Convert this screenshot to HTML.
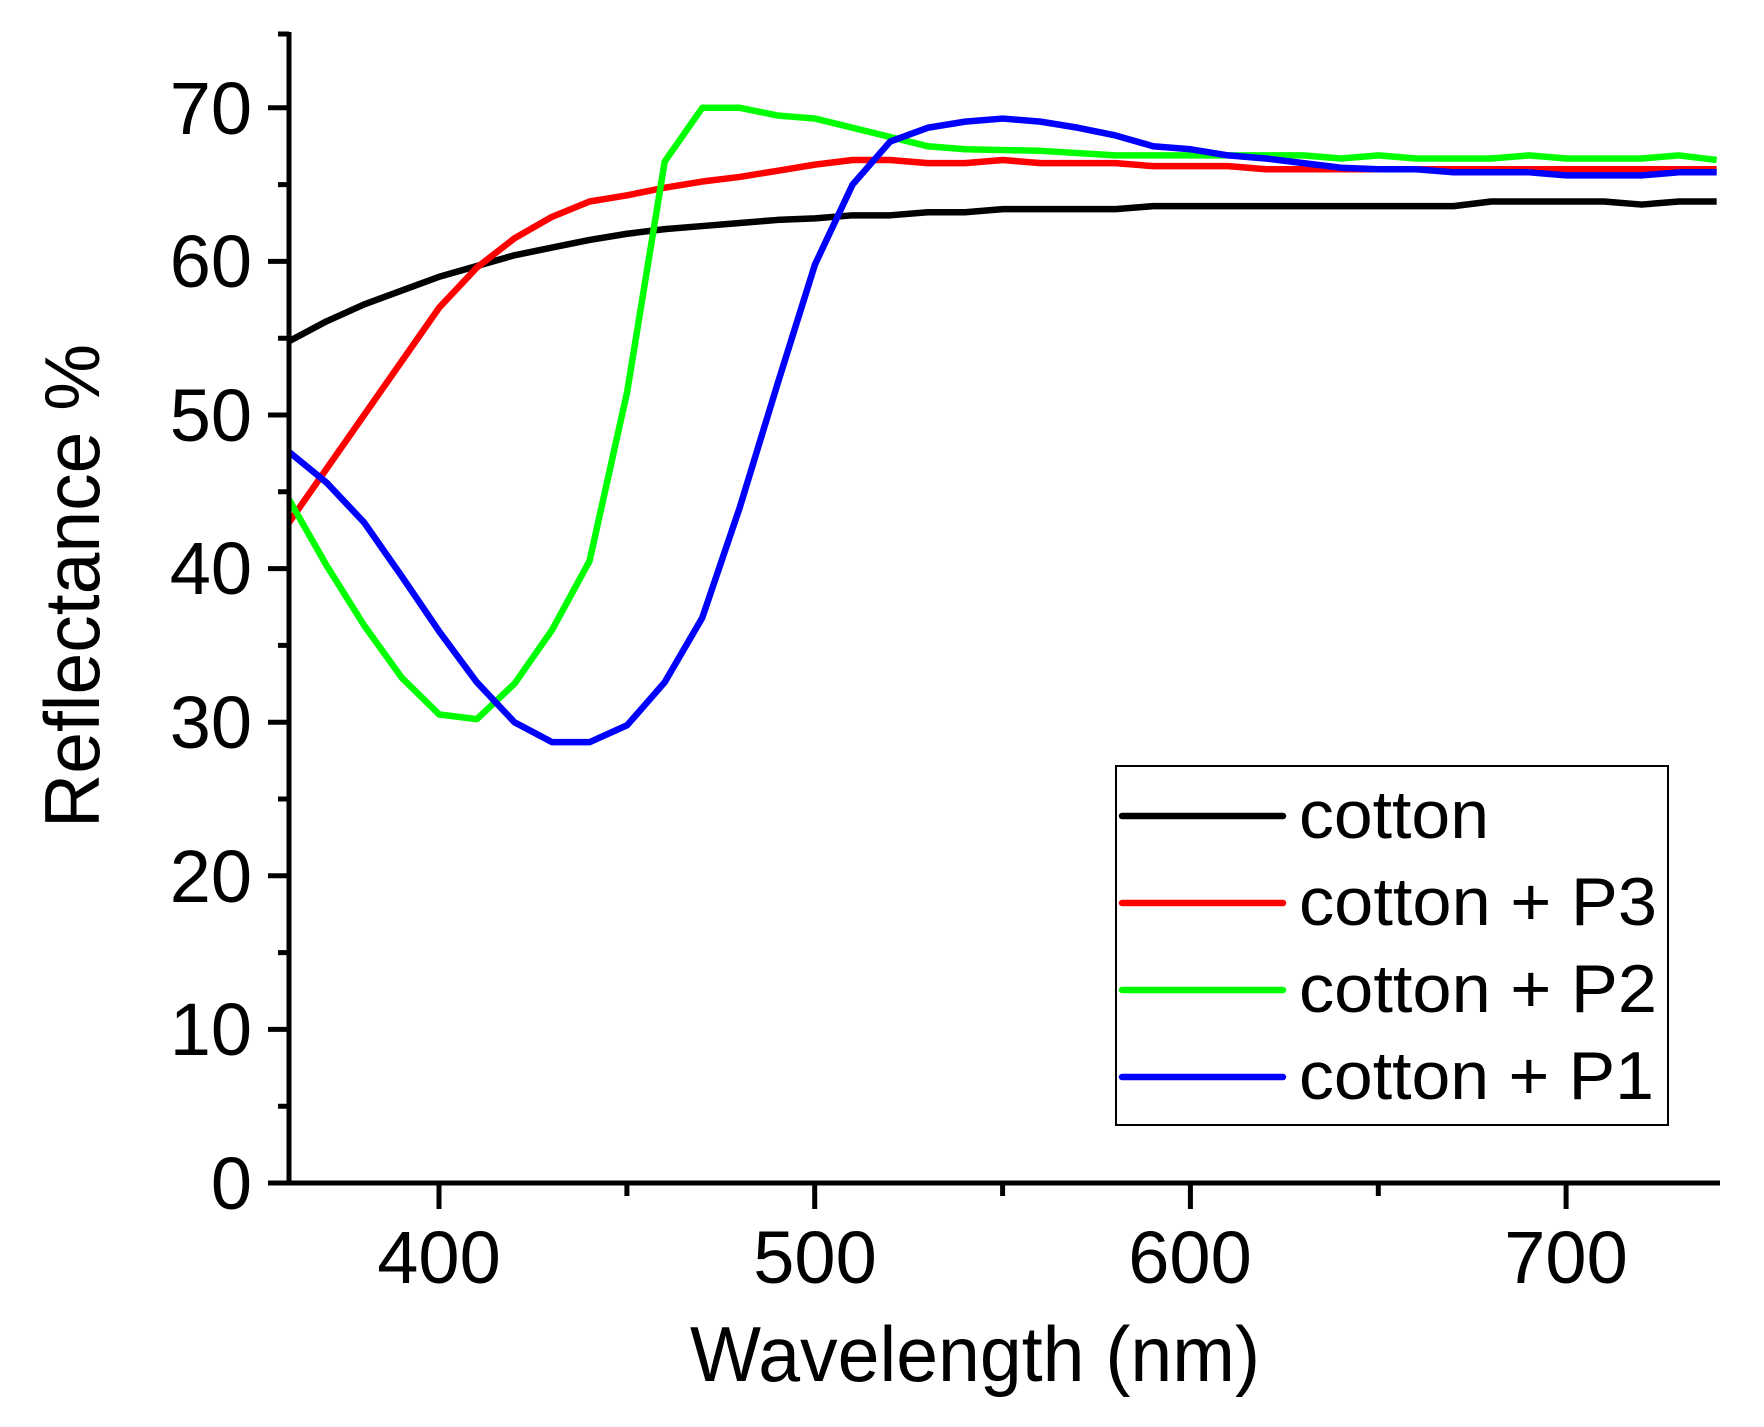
<!DOCTYPE html>
<html><head><style>html,body{margin:0;padding:0;background:#fff}</style></head>
<body>
<svg width="1764" height="1422" viewBox="0 0 1764 1422" xmlns="http://www.w3.org/2000/svg" font-family="Liberation Sans, Arial, sans-serif">
<rect width="1764" height="1422" fill="#fff"/>
<g transform="translate(289,1183) scale(3.757,-15.36) translate(-360,0)" fill="none" stroke-linejoin="round">
<polyline vector-effect="non-scaling-stroke" stroke="#000" stroke-width="6.5" points="360,54.8 370,56.1 380,57.2 390,58.1 400,59 410,59.7 420,60.4 430,60.9 440,61.4 450,61.8 460,62.1 470,62.3 480,62.5 490,62.7 500,62.8 510,63 520,63 530,63.2 540,63.2 550,63.4 580,63.4 590,63.6 670,63.6 680,63.9 710,63.9 720,63.7 730,63.9 740,63.9"/>
<polyline vector-effect="non-scaling-stroke" stroke="#f00" stroke-width="6.5" points="360,43 370,46.5 380,50 390,53.5 400,57 410,59.6 420,61.5 430,62.9 440,63.9 450,64.3 460,64.8 470,65.2 480,65.5 490,65.9 500,66.3 510,66.6 520,66.6 530,66.4 540,66.4 550,66.6 560,66.4 580,66.4 590,66.2 610,66.2 620,66 740,66"/>
<polyline vector-effect="non-scaling-stroke" stroke="#0f0" stroke-width="6.5" points="360,44.5 370,40.2 380,36.3 390,32.9 400,30.5 410,30.2 420,32.5 430,36 440,40.5 450,51.5 460,66.5 470,70 480,70 490,69.5 500,69.3 510,68.7 520,68.1 530,67.5 540,67.3 560,67.2 580,66.9 630,66.9 640,66.7 650,66.9 660,66.7 680,66.7 690,66.9 700,66.7 720,66.7 730,66.9 740,66.6"/>
<polyline vector-effect="non-scaling-stroke" stroke="#00f" stroke-width="6.5" points="360,47.6 370,45.6 380,43 390,39.5 400,35.9 410,32.6 420,30 430,28.7 440,28.7 450,29.8 460,32.6 470,36.8 480,44 490,52 500,59.8 510,65 520,67.8 530,68.7 540,69.1 550,69.3 560,69.1 570,68.7 580,68.2 590,67.5 600,67.3 610,66.9 620,66.7 630,66.4 640,66.1 650,66 660,66 670,65.8 690,65.8 700,65.6 720,65.6 730,65.8 740,65.8"/>
</g>
<g stroke="#000" stroke-width="5" fill="none">
<line x1="289" y1="32" x2="289" y2="1185"/>
<line x1="268" y1="1183" x2="1720" y2="1183"/>
<path d="M268 1183H289M268 1029.4H289M268 875.8H289M268 722.2H289M268 568.6H289M268 415H289M268 261.4H289M268 107.8H289"/>
<path d="M278 1106.2H289M278 952.6H289M278 799H289M278 645.4H289M278 491.8H289M278 338.2H289M278 184.6H289M278 34H289"/>
<path d="M439 1183V1209M814.7 1183V1209M1190.4 1183V1209M1566.1 1183V1209"/>
<path d="M626.9 1183V1196M1002.6 1183V1196M1378.3 1183V1196"/>
</g>
<g font-size="74" fill="#000" text-anchor="end">
<text x="252" y="1209">0</text>
<text x="252" y="1055">10</text>
<text x="252" y="902">20</text>
<text x="252" y="748">30</text>
<text x="252" y="594">40</text>
<text x="252" y="441">50</text>
<text x="252" y="287">60</text>
<text x="252" y="134">70</text>
</g>
<g font-size="74" fill="#000" text-anchor="middle">
<text x="439" y="1283">400</text>
<text x="815" y="1283">500</text>
<text x="1190" y="1283">600</text>
<text x="1566" y="1283">700</text>
</g>
<text x="690" y="1381" font-size="78" textLength="570" lengthAdjust="spacingAndGlyphs">Wavelength (nm)</text>
<text transform="translate(99,828) rotate(-90)" font-size="78" textLength="484" lengthAdjust="spacingAndGlyphs">Reflectance %</text>
<rect x="1116" y="766" width="552" height="359" fill="#fff" stroke="#000" stroke-width="2"/>
<g stroke-width="6.5" stroke-linecap="round">
<line x1="1122" y1="816" x2="1283" y2="816" stroke="#000"/>
<line x1="1122" y1="903" x2="1283" y2="903" stroke="#f00"/>
<line x1="1122" y1="990" x2="1283" y2="990" stroke="#0f0"/>
<line x1="1122" y1="1077" x2="1283" y2="1077" stroke="#00f"/>
</g>
<g font-size="68" fill="#000">
<text x="1299" y="838" textLength="190" lengthAdjust="spacingAndGlyphs">cotton</text>
<text x="1299" y="925" textLength="358" lengthAdjust="spacingAndGlyphs">cotton + P3</text>
<text x="1299" y="1012" textLength="358" lengthAdjust="spacingAndGlyphs">cotton + P2</text>
<text x="1299" y="1099" textLength="355" lengthAdjust="spacingAndGlyphs">cotton + P1</text>
</g>
</svg>
</body></html>
